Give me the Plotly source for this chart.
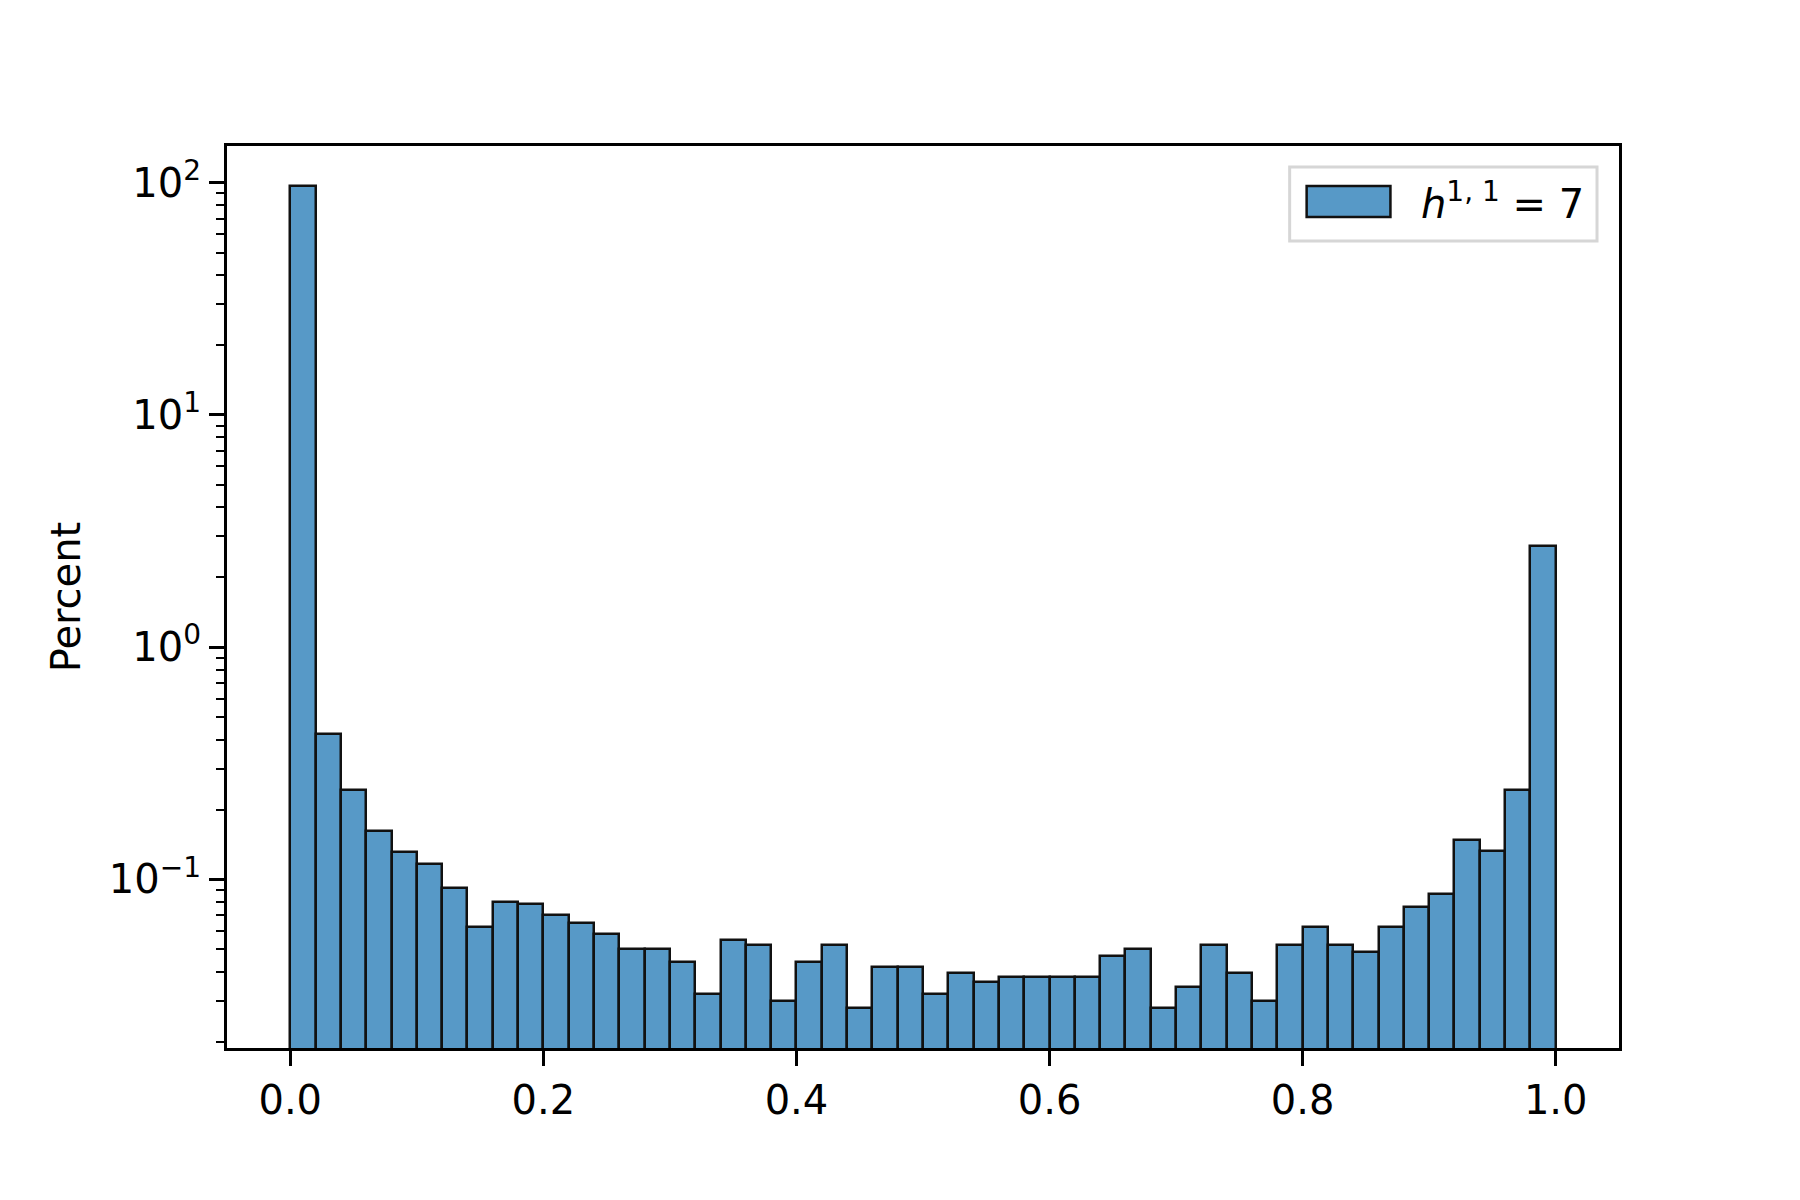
import numpy as np
import plotly.graph_objects as go

# histogram of 50 equal bins over [0, 1], values in percent
bin_left = [i / 50 for i in range(50)]
percent = [
    96.6, 0.422, 0.242, 0.161, 0.131, 0.117, 0.0923, 0.0625, 0.0803, 0.0785,
    0.0701, 0.0647, 0.0584, 0.0504, 0.0504, 0.0440, 0.0320, 0.0546, 0.0521, 0.0299,
    0.0440, 0.0521, 0.0279, 0.0421, 0.0421, 0.0320, 0.0397, 0.0363, 0.0380, 0.0380,
    0.0380, 0.0380, 0.0466, 0.0504, 0.0279, 0.0343, 0.0521, 0.0397, 0.0299, 0.0521,
    0.0625, 0.0521, 0.0488, 0.0625, 0.0759, 0.0869, 0.148, 0.132, 0.242, 2.72,
]
bin_width = 0.02
x_ticks = [0.0, 0.2, 0.4, 0.6, 0.8, 1.0]
y_ticks = [0.1, 1, 10, 100]
y_ticktext = ["10<sup>\u22121</sup>", "10<sup>0</sup>", "10<sup>1</sup>", "10<sup>2</sup>"]
legend_label = "<i>h</i><sup>1, 1</sup> = 7"

bar_color = "#5799c7"
font = dict(family="DejaVu Sans", size=40, color="black")

centers = [b + bin_width / 2 for b in bin_left]

fig = go.Figure()
fig.add_trace(
    go.Bar(
        x=centers,
        y=percent,
        width=bin_width,
        marker=dict(color=bar_color, line=dict(color="#111111", width=2.5)),
        showlegend=False,
        name="h11=7",
    )
)

axis_common = dict(
    showline=True,
    linecolor="black",
    linewidth=3,
    mirror=True,
    showgrid=False,
    zeroline=False,
    ticks="outside",
    ticklen=15,
    tickwidth=3,
    tickcolor="black",
    tickfont=font,
)

fig.update_xaxes(
    range=[-0.05, 1.05],
    tickvals=x_ticks,
    ticktext=[f"{v:.1f}" for v in x_ticks],
    **axis_common,
)
fig.update_yaxes(
    type="log",
    range=[np.log10(0.0188), np.log10(143.9)],
    tickvals=y_ticks,
    ticktext=y_ticktext,
    minor=dict(ticks="outside", ticklen=8, tickwidth=2, tickcolor="black", dtick="D1", showgrid=False),
    title=dict(text="Percent", font=font, standoff=16),
    **axis_common,
)

# matplotlib-style legend box with a wide patch
fig.add_shape(
    type="rect", xref="paper", yref="paper",
    x0=0.7634, x1=0.9842, y0=0.8948, y1=0.9767,
    line=dict(color="#d6d6d6", width=3), fillcolor="rgba(255,255,255,0.8)",
)
fig.add_shape(
    type="rect", xref="paper", yref="paper",
    x0=0.7756, x1=0.8358, y0=0.9214, y1=0.9557,
    line=dict(color="#111111", width=2.5), fillcolor=bar_color,
)
fig.add_annotation(
    text=legend_label, xref="paper", yref="paper",
    x=0.856, y=0.939, xanchor="left", yanchor="middle",
    showarrow=False, font=font,
)

# the page body adds an 8 px offset, so margins are trimmed to compensate
fig.update_layout(
    width=1800,
    height=1200,
    bargap=0,
    plot_bgcolor="white",
    paper_bgcolor="white",
    font=font,
    margin=dict(l=219, r=189, t=138, b=160),
)

fig.write_html("out.html")
